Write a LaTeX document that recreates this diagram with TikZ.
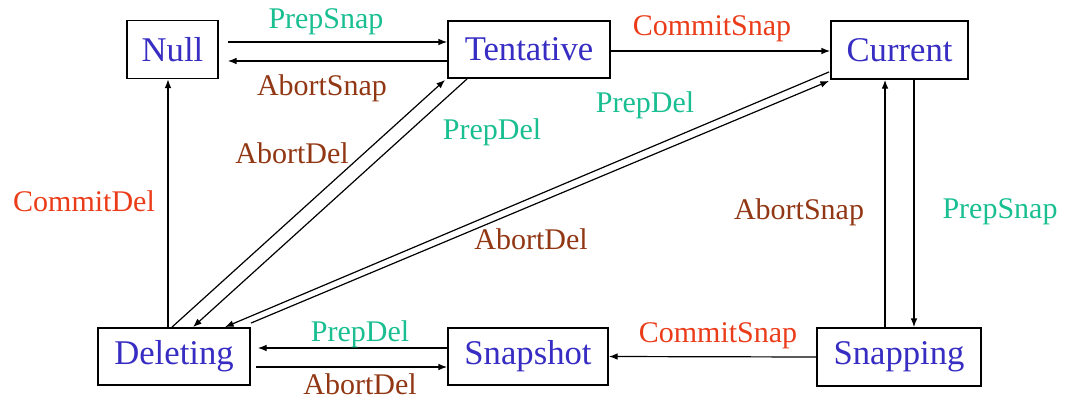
\documentclass[tikz,border=0pt]{standalone}
\usepackage{fontspec}
\setmainfont{Liberation Serif}
\usetikzlibrary{arrows.meta,calc}
\definecolor{statecol}{RGB}{55,45,195}
\definecolor{prepcol}{RGB}{25,190,145}
\definecolor{commitcol}{RGB}{235,60,25}
\definecolor{abortcol}{RGB}{145,55,20}
\tikzset{
  state/.style={draw=black, line width=1.4pt, fill=white, inner sep=0pt,
    text=statecol, font=\fontsize{26pt}{28pt}\selectfont},
  trans/.style={line width=0.9pt, -{Latex[length=6.5pt,width=5pt]}},
  lbl/.style={inner sep=0pt, font=\fontsize{22.5pt}{24pt}\selectfont},
  prep/.style={lbl, text=prepcol},
  commit/.style={lbl, text=commitcol},
  abort/.style={lbl, text=abortcol},
}
\begin{document}
\begin{tikzpicture}[x=0.75pt, y=-0.75pt]
\useasboundingbox (0,0) rectangle (1066,400);

% states
\node[state, minimum width=68.25pt, minimum height=43.5pt] (null) at (172.5,49.5) {Null};
\node[state, minimum width=121.5pt, minimum height=42.75pt] (tent) at (529,49.5) {Tentative};
\node[state, minimum width=102.75pt, minimum height=43.5pt] (cur) at (899.5,50) {Current};
\node[state, minimum width=114pt, minimum height=42.75pt] (del) at (174,356.5) {Deleting};
\node[state, minimum width=120pt, minimum height=42.75pt] (snap) at (528,356.5) {Snapshot};
\node[state, minimum width=123pt, minimum height=43.5pt] (sping) at (899,357) {Snapping};

% top row
\draw[trans] ($(null.east)+(9,-7.5)$) -- ($(tent.west)+(0,-7.5)$);
\draw[trans] ($(tent.west)+(0,11.5)$) -- ($(null.east)+(9,11.5)$);
\draw[trans] ($(tent.east)+(0,1.5)$) -- ($(cur.west)+(0,1)$);

% right column
\draw[trans] ($(cur.south)+(14.5,0)$) -- ($(sping.north)+(15,0)$);
\draw[trans] ($(sping.north)+(-14,0)$) -- ($(cur.south)+(-14.5,0)$);

% bottom row
\draw[trans] (sping.west) -- (snap.east);
\draw[trans] ($(snap.west)+(0,-8.5)$) -- ($(del.east)+(7,-8.5)$);
\draw[trans] ($(del.east)+(5,10.5)$) -- ($(snap.west)+(0,10.5)$);

% left column and diagonals
\draw[trans] ($(del.north)+(-6,0)$) -- ($(null.south)+(-4.5,0)$);
\draw[trans] ($(del.north)+(-2,0)$) -- ($(tent.south west)+(-2,1)$);
\draw[trans] ($(tent.south west)+(20,0)$) -- ($(del.north)+(19,0)$);
\draw[trans] ($(cur.south west)+(-1,-8)$) -- ($(del.north)+(51,0)$);
\draw[trans] ($(del.north east)+(0,-4)$) -- ($(cur.south west)+(-1,1)$);

% transition labels
\node[prep] (l1) at (326,21.5) {PrepSnap};
\node[abort] (l2) at (322,88) {AbortSnap};
\node[commit] (l3) at (712,29) {CommitSnap};
\node[prep] (l4) at (645,105) {PrepDel};
\node[prep] (l5) at (492,132.5) {PrepDel};
\node[abort] (l6) at (292,153) {AbortDel};
\node[commit] (l7) at (84,201) {CommitDel};
\node[abort] (l8) at (531,239) {AbortDel};
\node[abort] (l9) at (799,212) {AbortSnap};
\node[prep] (l10) at (1000,212) {PrepSnap};
\node[prep] (l11) at (360,334) {PrepDel};
\node[commit] (l12) at (718,336) {CommitSnap};
\node[abort] (l13) at (360,384.5) {AbortDel};
\end{tikzpicture}
\end{document}
